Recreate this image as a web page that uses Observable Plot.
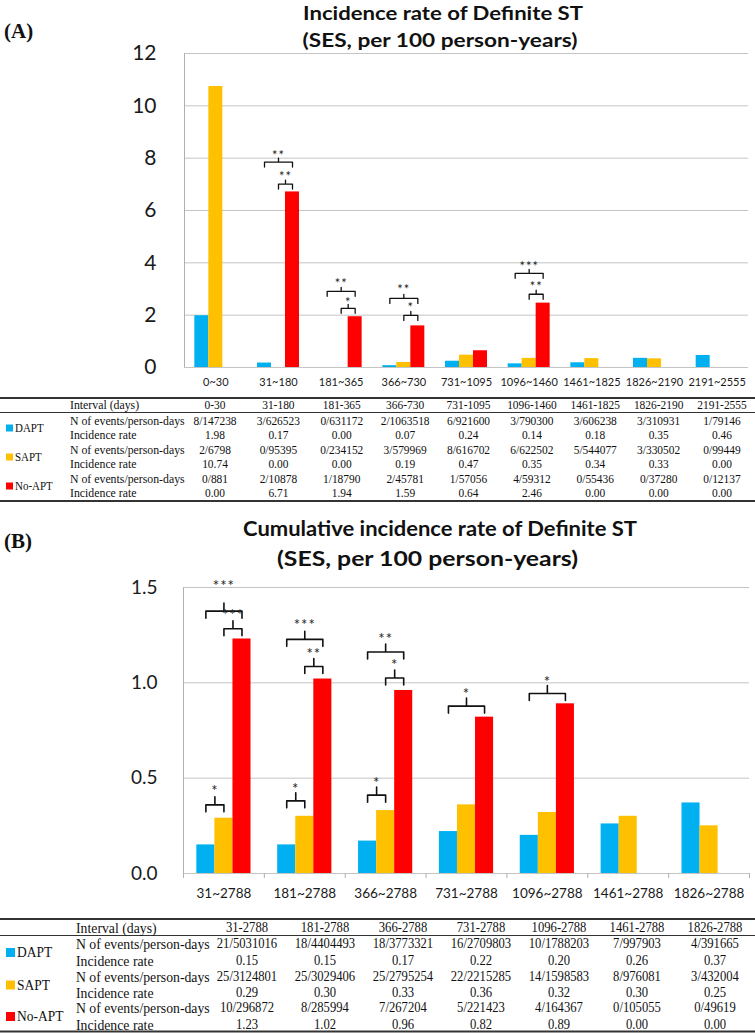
<!DOCTYPE html>
<html><head><meta charset="utf-8">
<script src="https://cdn.jsdelivr.net/npm/d3@7"></script>
<script src="https://cdn.jsdelivr.net/npm/@observablehq/plot@0.6"></script>
<style>
body{margin:0;background:#fff}
#root{position:relative;width:755px;height:1033px;overflow:hidden;background:#fff}
</style></head><body><div id="root"></div>
<script>
// ---------- shared ----------
const series = ["DAPT", "SAPT", "No-APT"];
const colors = ["#00B0F0", "#FFC000", "#FF0000"];

// ---------- Panel A data ----------
const catsA = ["0~30", "31~180", "181~365", "366~730", "731~1095", "1096~1460", "1461~1825", "1826~2190", "2191~2555"];
const intervalsA = ["0-30", "31-180", "181-365", "366-730", "731-1095", "1096-1460", "1461-1825", "1826-2190", "2191-2555"];
const daptEventsA = ["8/147238", "3/626523", "0/631172", "2/1063518", "6/921600", "3/790300", "3/606238", "3/310931", "1/79146"];
const daptRateA = [1.98, 0.17, 0.00, 0.07, 0.24, 0.14, 0.18, 0.35, 0.46];
const saptEventsA = ["2/6798", "0/95395", "0/234152", "3/579969", "8/616702", "6/622502", "5/544077", "3/330502", "0/99449"];
const saptRateA = [10.74, 0.00, 0.00, 0.19, 0.47, 0.35, 0.34, 0.33, 0.00];
const noaptEventsA = ["0/881", "2/10878", "1/18790", "2/45781", "1/57056", "4/59312", "0/55436", "0/37280", "0/12137"];
const noaptRateA = [0.00, 6.71, 1.94, 1.59, 0.64, 2.46, 0.00, 0.00, 0.00];
const yTicksA = [0, 2, 4, 6, 8, 10, 12];
const bracketsA = [
  {cat: "31~180", from: "DAPT", to: "No-APT", level: 7.85, starAt: 8.2, stars: "**"},
  {cat: "31~180", from: "SAPT", to: "No-APT", level: 7.01, starAt: 7.39, stars: "**"},
  {cat: "181~365", from: "DAPT", to: "No-APT", level: 2.91, starAt: 3.30, stars: "**"},
  {cat: "181~365", from: "SAPT", to: "No-APT", level: 2.26, starAt: 2.57, stars: "*"},
  {cat: "366~730", from: "DAPT", to: "No-APT", level: 2.64, starAt: 3.07, stars: "**"},
  {cat: "366~730", from: "SAPT", to: "No-APT", level: 1.99, starAt: 2.38, stars: "*"},
  {cat: "1096~1460", from: "DAPT", to: "No-APT", level: 3.60, starAt: 3.98, stars: "***"},
  {cat: "1096~1460", from: "SAPT", to: "No-APT", level: 2.80, starAt: 3.18, stars: "**"}
];

// ---------- Panel B data ----------
const catsB = ["31~2788", "181~2788", "366~2788", "731~2788", "1096~2788", "1461~2788", "1826~2788"];
const intervalsB = ["31-2788", "181-2788", "366-2788", "731-2788", "1096-2788", "1461-2788", "1826-2788"];
const daptEventsB = ["21/5031016", "18/4404493", "18/3773321", "16/2709803", "10/1788203", "7/997903", "4/391665"];
const daptRateB = [0.15, 0.15, 0.17, 0.22, 0.20, 0.26, 0.37];
const saptEventsB = ["25/3124801", "25/3029406", "25/2795254", "22/2215285", "14/1598583", "8/976081", "3/432004"];
const saptRateB = [0.29, 0.30, 0.33, 0.36, 0.32, 0.30, 0.25];
const noaptEventsB = ["10/296872", "8/285994", "7/267204", "5/221423", "4/164367", "0/105055", "0/49619"];
const noaptRateB = [1.23, 1.02, 0.96, 0.82, 0.89, 0.00, 0.00];
const yTicksB = [0, 0.5, 1.0, 1.5];
const bracketsB = [
  {cat: "31~2788", from: "DAPT", to: "No-APT", level: 1.376, starAt: 1.523, stars: "***"},
  {cat: "31~2788", from: "SAPT", to: "No-APT", level: 1.284, starAt: 1.371, stars: "***"},
  {cat: "31~2788", from: "DAPT", to: "SAPT", level: 0.360, starAt: 0.447, stars: "*"},
  {cat: "181~2788", from: "DAPT", to: "No-APT", level: 1.228, starAt: 1.320, stars: "***"},
  {cat: "181~2788", from: "SAPT", to: "No-APT", level: 1.086, starAt: 1.168, stars: "**"},
  {cat: "181~2788", from: "DAPT", to: "SAPT", level: 0.381, starAt: 0.457, stars: "*"},
  {cat: "366~2788", from: "DAPT", to: "No-APT", level: 1.162, starAt: 1.244, stars: "**"},
  {cat: "366~2788", from: "SAPT", to: "No-APT", level: 1.025, starAt: 1.107, stars: "*"},
  {cat: "366~2788", from: "DAPT", to: "SAPT", level: 0.411, starAt: 0.492, stars: "*"},
  {cat: "731~2788", from: "DAPT", to: "No-APT", level: 0.878, starAt: 0.954, stars: "*"},
  {cat: "1096~2788", from: "DAPT", to: "No-APT", level: 0.944, starAt: 1.020, stars: "*"}
];

// ---------- helpers ----------
const GROUP = 0.67;            // fraction of each category band filled by the 3 bars
const W = GROUP / 3;           // width of one bar in category units
const center = (i, j) => i + 0.5 + (j - 1) * W;

function barRows(cats, rates) {
  const out = [];
  cats.forEach((c, i) => rates.forEach((arr, j) => {
    if (arr[i] > 0) out.push({x1: center(i, j) - W / 2, x2: center(i, j) + W / 2, value: arr[i], series: series[j]});
  }));
  return out;
}
function bracketRows(cats, list, pxPerUnit, tipPx, upPx) {
  const pts = [], labels = [];
  list.forEach((b, k) => {
    const i = cats.indexOf(b.cat);
    const xa = center(i, series.indexOf(b.from)), xb = center(i, series.indexOf(b.to));
    const xm = (xa + xb) / 2, t = tipPx / pxPerUnit, u = upPx / pxPerUnit;
    [[xa, b.level - t], [xa, b.level], [xm, b.level], [xm, b.level + u], [xm, b.level], [xb, b.level], [xb, b.level - t]]
      .forEach(([x, y]) => pts.push({k, x, y}));
    labels.push({x: xm, y: b.starAt, text: b.stars});
  });
  return {pts, labels};
}

function chart({cats, rates, yTicks, ymax, brackets, top, height, marginTop, marginBottom, marginLeft, marginRight,
                xFont, yFont, yPad, xPad, tipPx, upPx, starFont, strokeW, boundaryTicks}) {
  const innerH = height - marginTop - marginBottom;
  const ppu = innerH / ymax;
  const br = bracketRows(cats, brackets, ppu, tipPx, upPx);
  const marks = [
    Plot.ruleY(yTicks, {stroke: "#c4c4c4", strokeWidth: 1}),
    Plot.ruleX([0], {y1: 0, y2: ymax, stroke: "#b0b0b0"}),
    Plot.rect(barRows(cats, rates), {x1: "x1", x2: "x2", y1: 0, y2: "value", fill: "series"}),
    Plot.line(br.pts, {x: "x", y: "y", z: "k", stroke: "#111", strokeWidth: strokeW, strokeLinejoin: "round", strokeLinecap: "round"}),
    Plot.text(br.labels, {x: "x", y: "y", text: "text", fontSize: starFont, fill: "#222", lineAnchor: "middle", dy: 3})
  ];
  if (boundaryTicks) marks.push(Plot.ruleX(d3.range(0, cats.length + 1), {y1: 0, y2: -5 / ppu, stroke: "#b0b0b0"}));
  const svg = Plot.plot({
    width: 755, height, marginTop, marginBottom, marginLeft, marginRight,
    style: {fontFamily: "Lato, sans-serif", fontSize: xFont + "px", color: "#1a1a1a", background: "transparent", overflow: "visible"},
    x: {domain: [0, cats.length], ticks: cats.map((_, i) => i + 0.5), tickFormat: v => cats[Math.floor(v)], tickSize: 0, tickPadding: xPad, label: null},
    y: {domain: [0, ymax], ticks: yTicks, tickFormat: v => ymax < 5 ? v.toFixed(1) : String(v), tickSize: 0, tickPadding: yPad, label: null},
    color: {domain: series, range: colors},
    marks
  });
  svg.querySelectorAll('[aria-label="y-axis tick label"] text, [aria-label="y-axis"] text').forEach(t => { t.style.fontSize = yFont + "px"; });
  svg.querySelectorAll('[aria-label="text"] text').forEach(t => { t.style.letterSpacing = "1px"; });
  svg.style.position = "absolute";
  svg.style.left = "0px";
  svg.style.top = top + "px";
  document.getElementById("root").appendChild(svg);
}

chart({cats: catsA, rates: [daptRateA, saptRateA, noaptRateA], yTicks: yTicksA, ymax: 12, brackets: bracketsA,
  top: 43, height: 352, marginTop: 10, marginBottom: 28, marginLeft: 184, marginRight: 7,
  xFont: 11, yFont: 21, yPad: 28, xPad: 11, tipPx: 5, upPx: 4, starFont: 13, strokeW: 1.3, boundaryTicks: false});

chart({cats: catsB, rates: [daptRateB, saptRateB, noaptRateB], yTicks: yTicksB, ymax: 1.5, brackets: bracketsB,
  top: 577, height: 336, marginTop: 10, marginBottom: 40, marginLeft: 183, marginRight: 6,
  xFont: 13.5, yFont: 19, yPad: 26, xPad: 15, tipPx: 7, upPx: 8, starFont: 15, strokeW: 1.6, boundaryTicks: true});

// ---------- overlay: titles, panel letters, tables ----------
const ov = d3.select("#root").append("svg")
  .attr("width", 755).attr("height", 1033)
  .style("position", "absolute").style("left", 0).style("top", 0).style("pointer-events", "none");

function title(x, y, txt, size, len) {
  ov.append("text").attr("x", x).attr("y", y).attr("dy", "0.36em").attr("text-anchor", "middle")
    .attr("font-family", "Lato, sans-serif").attr("font-weight", "bold").attr("font-size", size)
    .attr("textLength", len).attr("lengthAdjust", "spacingAndGlyphs").attr("fill", "#111").text(txt);
}
function letter(x, y, txt) {
  ov.append("text").attr("x", x).attr("y", y).attr("dy", "0.35em")
    .attr("font-family", "'Liberation Serif', 'Times New Roman', serif").attr("font-weight", "bold")
    .attr("font-size", 21).attr("fill", "#111").text(txt);
}
title(443, 13, "Incidence rate of Definite ST", 19, 280);
title(440, 40, "(SES, per 100 person-years)", 19, 275);
title(440, 528, "Cumulative incidence rate of Definite ST", 21, 394);
title(427.5, 558, "(SES, per 100 person-years)", 21, 301);
letter(4, 31, "(A)");
letter(4, 541, "(B)");

function table({intervals, events, rates, firstX, lastX, lines, headerY, rowYs, labelX, groupX, labelFont, dataFont, groupFont, sx, sw}) {
  const g = ov.append("g").attr("font-family", "'Liberation Serif', 'Times New Roman', serif").attr("fill", "#111");
  const n = intervals.length;
  const colX = i => firstX + (lastX - firstX) * i / (n - 1);
  const txt = (x, y, s, size, anchor) => g.append("text")
    .attr("transform", `translate(${x},${y}) scale(${sx},1)`).attr("dy", "0.33em")
    .attr("text-anchor", anchor).attr("font-size", size).text(s);
  lines.forEach(l => g.append("line").attr("x1", 0).attr("x2", 755).attr("y1", l.y).attr("y2", l.y)
    .attr("stroke", "#333").attr("stroke-width", l.w));
  txt(labelX, headerY, "Interval (days)", labelFont, "start");
  intervals.forEach((s, i) => txt(colX(i), headerY, s, dataFont, "middle"));
  series.forEach((name, j) => {
    const yN = rowYs[2 * j], yR = rowYs[2 * j + 1], ym = (yN + yR) / 2;
    g.append("rect").attr("x", 6).attr("y", ym - sw / 2).attr("width", sw).attr("height", sw).attr("fill", colors[j]);
    txt(groupX, ym, name, groupFont, "start");
    txt(labelX, yN, "N of events/person-days", labelFont, "start");
    txt(labelX, yR, "Incidence rate", labelFont, "start");
    events[j].forEach((s, i) => txt(colX(i), yN, s, dataFont, "middle"));
    rates[j].forEach((v, i) => txt(colX(i), yR, v.toFixed(2), dataFont, "middle"));
  });
}

table({intervals: intervalsA, events: [daptEventsA, saptEventsA, noaptEventsA], rates: [daptRateA, saptRateA, noaptRateA],
  firstX: 215, lastX: 722, lines: [{y: 398, w: 2}, {y: 412.5, w: 1.2}, {y: 501, w: 2}], headerY: 405,
  rowYs: [421, 435, 450, 464, 479, 493], labelX: 70, groupX: 15, labelFont: 12.7, dataFont: 12.3, groupFont: 11.8, sx: 0.93, sw: 7});

table({intervals: intervalsB, events: [daptEventsB, saptEventsB, noaptEventsB], rates: [daptRateB, saptRateB, noaptRateB],
  firstX: 247, lastX: 715, lines: [{y: 919, w: 2}, {y: 935.5, w: 1.2}, {y: 1031.5, w: 2}], headerY: 928,
  rowYs: [944, 961, 977, 993, 1008, 1025], labelX: 76, groupX: 17, labelFont: 14.8, dataFont: 13.6, groupFont: 14.5, sx: 0.93, sw: 9});
</script></body></html>
